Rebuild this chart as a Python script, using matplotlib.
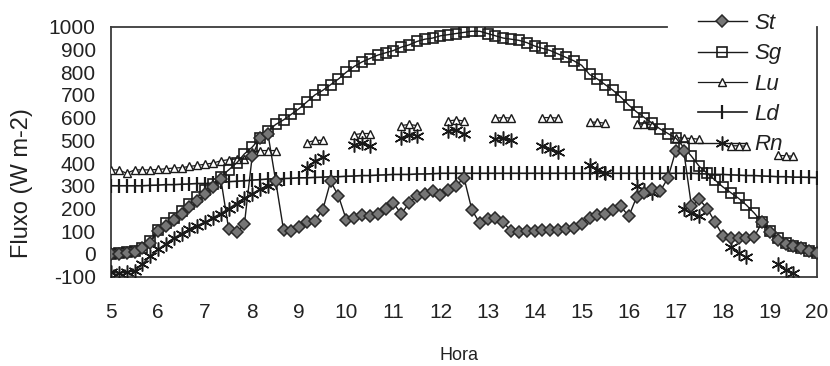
import numpy as np
import matplotlib
matplotlib.use("Agg")
import matplotlib.pyplot as plt

plt.rcParams['font.family'] = ['Liberation Sans', 'DejaVu Sans']
plt.rcParams['axes.unicode_minus'] = False

nan = np.nan
# time grid: 10-minute readings from 05:00 to 20:00
hora = 5 + np.arange(91) / 6.0

st = [0, 0, 5, 10, 25, 50, 100, 125, 150, 175, 205, 235, 265, 295, 330,
      110, 95, 130, 430, 510, 530, 320, 105, 100, 120, 140, 145, 195, 320, 255,
      150, 160, 170, 165, 175, 200, 225, 175, 225, 255, 265, 275,
      260, 280, 300, 335, 195, 135, 155, 160, 140, 100, 95, 100,
      100, 105, 105, 105, 110, 115, 130, 160, 170, 175, 195, 210,
      165, 250, 270, 285, 275, 335, 455, 455, 210, 240, 200, 140,
      80, 70, 70, 70, 75, 140, 95, 60, 45, 35, 25, 12, 5]

sg = [0, 3, 8, 12, 25, 55, 105, 135, 160, 190, 220, 250, 280, 310, 340,
      370, 400, 440, 470, 510, 540, 570, 590, 615, 640, 670, 700, 720, 745, 770,
      800, 825, 845, 860, 875, 885, 895, 910, 920, 935, 945, 950,
      960, 965, 970, 975, 980, 980, 970, 960, 950, 945, 940, 930,
      915, 905, 895, 880, 865, 850, 830, 790, 770, 745, 720, 690,
      655, 625, 600, 575, 550, 530, 510, 470, 430, 385, 355, 325,
      295, 270, 245, 215, 180, 140, 100, 70, 50, 35, 25, 15, 5]

lu = [370, 370, 355, 370, 370, 370, 372, 375, 378, 380, 385, 390, 395, 400, 410,
      415, 418, 420, 450, 455, 455, 455, nan, nan, nan, 490, 500, 500, nan, nan,
      nan, 525, 530, 530, nan, nan, nan, 565, 570, 565, nan, nan,
      nan, 585, 590, 585, nan, nan, nan, 598, 600, 598, nan, nan,
      nan, 600, 600, 598, nan, nan, nan, 580, 580, 575, nan, nan,
      nan, 572, 570, 568, nan, nan, 512, 510, 508, 505, nan, nan,
      nan, 476, 476, 474, nan, nan, nan, 434, 432, 430, nan, nan, nan]

ld = [300, 300, 300, 300, 300, 302, 303, 305, 305, 307, 308, 310, 310, 312, 315,
      318, 320, 322, 325, 327, 330, 330, 332, 333, 335, 335, 337, 338, 340, 340,
      342, 343, 345, 345, 347, 348, 350, 350, 350, 352, 352, 353,
      355, 355, 355, 355, 355, 355, 355, 355, 355, 355, 355, 355,
      355, 355, 355, 355, 355, 355, 355, 355, 355, 355, 355, 355,
      355, 355, 355, 355, 355, 355, 355, 355, 355, 353, 352, 350,
      350, 348, 347, 345, 345, 343, 342, 340, 340, 338, 338, 337, 336]

rn = [-80, -85, -80, -75, -45, -10, 20, 45, 70, 90, 108, 125, 140, 160, 178,
      200, 222, 245, 265, 286, 300, 315, nan, nan, nan, 380, 410, 425, nan, nan,
      nan, 480, 490, 475, nan, nan, nan, 510, 525, 520, nan, nan,
      nan, 540, 545, 530, nan, nan, nan, 505, 510, 500, nan, nan,
      nan, 475, 460, 450, nan, nan, nan, 390, 370, 355, nan, nan,
      nan, 300, 280, 270, nan, nan, nan, 200, 180, 165, nan, nan,
      nan, 30, 5, -15, nan, nan, nan, -45, -70, -85, nan, nan, nan]

series_names = ['St', 'Sg', 'Lu', 'Ld', 'Rn']
x_ticks = list(range(5, 21))
y_ticks = list(range(-100, 1001, 100))

fig = plt.figure(figsize=(8.30, 3.66), dpi=100)
ax = fig.add_axes([111/830, 1 - 276.7/366, (817 - 111)/830, 250/366])

ink = '#1a1a1a'
ax.plot(hora, st, color=ink, lw=1.0, marker='D', ms=6, mfc='#767676',
        mec='#2a2a2a', mew=1.1, label=series_names[0], zorder=6)
ax.plot(hora, sg, color=ink, lw=1.0, marker='s', ms=7, mfc='none',
        mec=ink, mew=1.2, label=series_names[1], zorder=4)
ax.plot(hora, lu, color=ink, lw=0.9, marker='^', ms=6, mfc='white',
        mec=ink, mew=1.0, label=series_names[2], zorder=3)
ax.plot(hora, ld, color=ink, lw=1.2, marker='|', ms=10, mew=1.6,
        mec=ink, label=series_names[3], zorder=3)
ax.plot(hora, rn, color=ink, lw=1.0, marker=(6, 2, 0), ms=10, mew=1.1,
        mec=ink, label=series_names[4], zorder=5)

ax.set_xlim(5, 20)
ax.set_ylim(-100, 1000)
ax.set_xticks(x_ticks)
ax.set_yticks(y_ticks)
ax.tick_params(axis='both', length=0, labelsize=15, colors='#222222')
ax.tick_params(axis='x', pad=19)
ax.tick_params(axis='y', pad=11)

for side in ['left', 'right', 'bottom']:
    ax.spines[side].set_color('#3a3a3a')
    ax.spines[side].set_linewidth(1.3)
ax.spines['top'].set_visible(False)
ax.axhline(1000, xmin=0, xmax=0.787, color='#3a3a3a', lw=1.3, clip_on=False)

fig.text(22/830, 1 - 183/366, 'Fluxo (W m-2)', rotation=90, fontsize=17,
         ha='center', va='center', color='#222222')
fig.text(459/830, 1 - 360/366, 'Hora', fontsize=13, ha='center',
         va='baseline', color='#222222')

leg = fig.legend(loc='upper left', bbox_to_anchor=(698/830, 1 - 13/366),
                 frameon=False, borderpad=0, borderaxespad=0,
                 handlelength=2.2, handletextpad=0.35, labelspacing=0.42,
                 numpoints=1, prop={'size': 16, 'style': 'italic'})
for t in leg.get_texts():
    t.set_color('#222222')

fig.savefig('out.png', dpi=100)
